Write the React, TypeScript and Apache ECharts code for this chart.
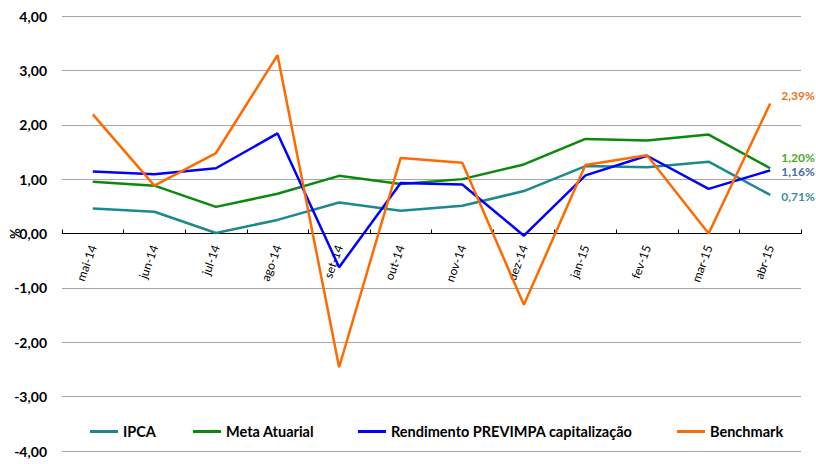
import React, { useEffect, useRef } from "react";
import * as echarts from "echarts";

const categories = ["mai-14", "jun-14", "jul-14", "ago-14", "set-14", "out-14", "nov-14", "dez-14", "jan-15", "fev-15", "mar-15", "abr-15"];
const ipca = [0.46, 0.40, 0.01, 0.25, 0.57, 0.42, 0.51, 0.78, 1.24, 1.22, 1.32, 0.71];
const metaAtuarial = [0.95, 0.88, 0.49, 0.73, 1.06, 0.91, 1.0, 1.27, 1.74, 1.71, 1.82, 1.20];
const rendimento = [1.14, 1.09, 1.20, 1.84, -0.62, 0.93, 0.90, -0.04, 1.07, 1.43, 0.82, 1.16];
const benchmark = [2.19, 0.88, 1.48, 3.28, -2.46, 1.39, 1.30, -1.31, 1.26, 1.44, 0.0, 2.39];
const yTicks = [-4, -3, -2, -1, 0, 1, 2, 3, 4];
const seriesNames = ["IPCA", "Meta Atuarial", "Rendimento PREVIMPA capitalização", "Benchmark"];

const FONT = "Lato, 'Liberation Sans', sans-serif";
const GRID_TOP = 16;
const GRID_BOTTOM = 13;
const H = 464;

const fmt = (v: number) => v.toFixed(2).replace(".", ",");

export default function App() {
  const ref = useRef<HTMLDivElement>(null);
  useEffect(() => {
    document.body.style.margin = "0";
    const chart = echarts.init(ref.current!, undefined, { renderer: "svg" });

    const mk = (name: string, data: number[], color: string, labelColor: string, offset: number[]) => ({
      name,
      type: "line",
      data,
      symbol: "none",
      clip: false,
      lineStyle: { color, width: 2.5 },
      itemStyle: { color },
      endLabel: {
        show: true,
        offset,
        formatter: (p: any) => fmt(Number(p.value)) + "%",
        color: labelColor,
        fontWeight: "bold",
        fontSize: 12,
        fontFamily: FONT,
      },
    });

    const yMin = yTicks[0];
    const yMax = yTicks[yTicks.length - 1];
    const plotH = H - GRID_TOP - GRID_BOTTOM;
    const zeroFromBottom = (plotH * (0 - yMin)) / (yMax - yMin);

    const legendLefts = [85, 188, 353, 672];

    chart.setOption({
      animation: false,
      backgroundColor: "#fff",
      grid: { left: 62, right: 15, top: GRID_TOP, bottom: GRID_BOTTOM, containLabel: false, outerBoundsMode: "none" },
      legend: seriesNames.map((n, i) => ({
        left: legendLefts[i],
        top: 419,
        icon: "rect",
        itemWidth: 28,
        itemHeight: 3,
        textStyle: { fontFamily: FONT, fontWeight: "bold", fontSize: 14.5, color: "#000" },
        data: [n],
      })),
      xAxis: {
        type: "category",
        data: categories,
        boundaryGap: true,
        offset: -zeroFromBottom,
        axisLine: { onZero: false, lineStyle: { color: "#000", width: 1 } },
        axisTick: { show: true, inside: true, length: 4, lineStyle: { color: "#000" } },
        axisLabel: {
          rotate: 70,
          margin: 12,
          fontFamily: FONT,
          fontSize: 12,
          color: "#000",
        },
        splitLine: { show: false },
      },
      yAxis: {
        type: "value",
        min: yMin,
        max: yMax,
        interval: 1,
        axisLine: { show: false },
        axisTick: { show: false },
        axisLabel: {
          formatter: (v: number) => fmt(v),
          fontFamily: FONT,
          fontWeight: "bold",
          fontSize: 14,
          color: "#000",
          margin: 15,
        },
        splitLine: { lineStyle: { color: "#a6a6a6", width: 1 } },
      },
      graphic: [
        {
          type: "text",
          x: 8,
          y: 239,
          rotation: Math.PI / 2,
          style: { text: "%", fontFamily: FONT, fontWeight: "bold", fontSize: 13, fill: "#000" },
        },
      ],
      series: [
        mk(seriesNames[0], ipca, "#1a8a8f", "#3b8ea5", [3, 2]),
        mk(seriesNames[1], metaAtuarial, "#0a8a0a", "#4ea72e", [3, -11]),
        mk(seriesNames[2], rendimento, "#0000ff", "#4a6aa0", [3, 1]),
        mk(seriesNames[3], benchmark, "#ff6a00", "#e8731a", [3, -8]),
      ],
    });
    return () => chart.dispose();
  }, []);
  return <div ref={ref} style={{ width: 816, height: H }} />;
}
